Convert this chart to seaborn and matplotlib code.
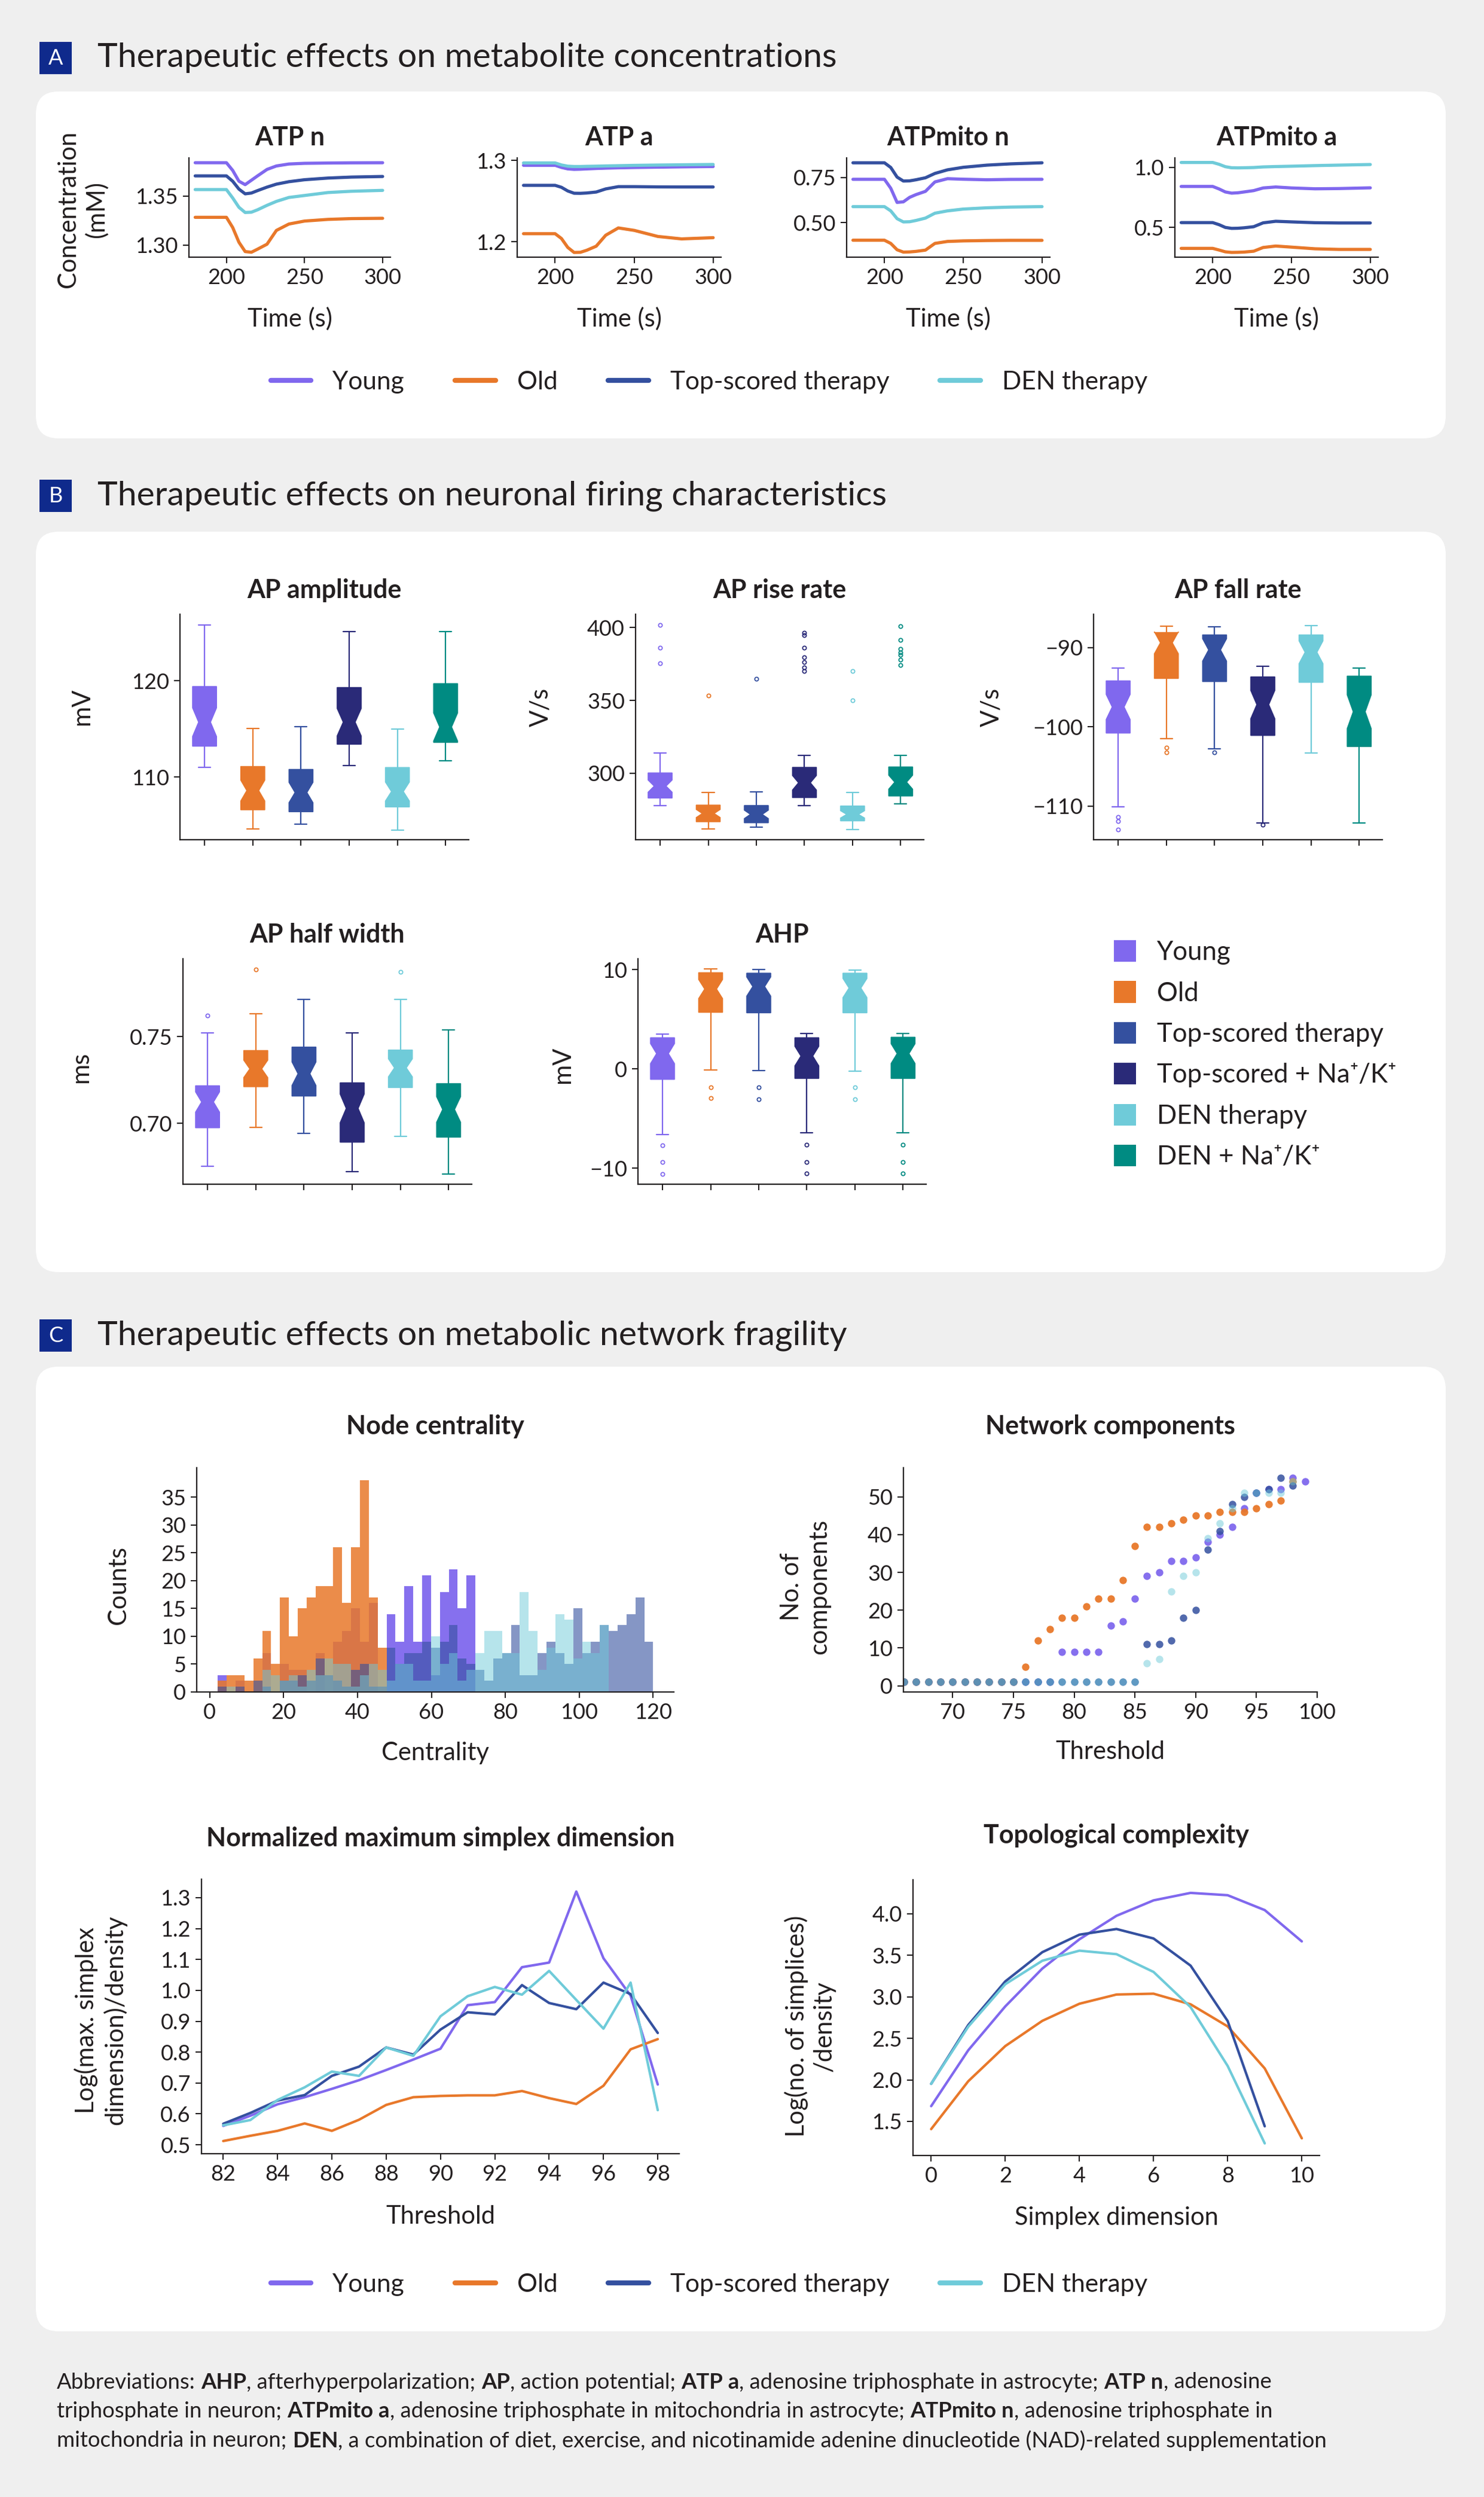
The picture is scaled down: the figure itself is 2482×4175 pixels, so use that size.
import numpy as np
import pandas as pd
import matplotlib
matplotlib.use('Agg')
import matplotlib.pyplot as plt
import seaborn as sns
from matplotlib.patches import FancyBboxPatch, Rectangle, Patch
from matplotlib.lines import Line2D

# ---------------- colours ----------------
C_YOUNG = '#8068ee'
C_OLD = '#e8782a'
C_TOP = '#34509f'
C_TOPNA = '#2a2a78'
C_DEN = '#6fcbd9'
C_DENNA = '#008b82'
INK = '#231f20'
BG = '#efefef'
HEAD_BLUE = '#0f2a8c'

# ---------------- data: panel A (metabolite traces) ----------------
time_s = [180, 200, 204, 208, 212, 216, 220, 226, 232, 240, 250, 265, 280, 300]

atp_n_young = [1.3838, 1.3838, 1.3760, 1.3650, 1.3615, 1.3660, 1.3705, 1.3770, 1.3805, 1.3825, 1.3832, 1.3835, 1.3837, 1.3838]
atp_n_old = [1.3283, 1.3283, 1.3180, 1.3030, 1.2935, 1.2928, 1.2960, 1.3010, 1.3150, 1.3215, 1.3245, 1.3262, 1.3270, 1.3273]
atp_n_top = [1.3704, 1.3704, 1.3650, 1.3570, 1.3522, 1.3530, 1.3555, 1.3590, 1.3620, 1.3645, 1.3665, 1.3682, 1.3692, 1.3698]
atp_n_den = [1.3565, 1.3565, 1.3480, 1.3385, 1.3332, 1.3335, 1.3360, 1.3405, 1.3445, 1.3485, 1.3505, 1.3535, 1.3548, 1.3557]

atp_a_young = [1.2941, 1.2941, 1.2915, 1.2897, 1.2891, 1.2893, 1.2897, 1.2902, 1.2906, 1.2910, 1.2914, 1.2918, 1.2922, 1.2926]
atp_a_old = [1.2099, 1.2099, 1.2040, 1.1930, 1.1868, 1.1870, 1.1895, 1.1945, 1.2080, 1.2170, 1.2140, 1.2065, 1.2035, 1.2050]
atp_a_top = [1.2694, 1.2694, 1.2670, 1.2625, 1.2597, 1.2596, 1.2600, 1.2612, 1.2650, 1.2678, 1.2678, 1.2675, 1.2674, 1.2674]
atp_a_den = [1.2970, 1.2970, 1.2945, 1.2930, 1.2926, 1.2926, 1.2928, 1.2930, 1.2933, 1.2936, 1.2940, 1.2944, 1.2947, 1.2951]

mito_n_young = [0.7395, 0.7395, 0.690, 0.612, 0.615, 0.640, 0.655, 0.673, 0.725, 0.743, 0.740, 0.737, 0.739, 0.7395]
mito_n_old = [0.4027, 0.4027, 0.385, 0.350, 0.337, 0.338, 0.341, 0.348, 0.385, 0.396, 0.399, 0.401, 0.402, 0.402]
mito_n_top = [0.831, 0.831, 0.805, 0.752, 0.730, 0.731, 0.737, 0.748, 0.772, 0.792, 0.806, 0.818, 0.825, 0.831]
mito_n_den = [0.5885, 0.5885, 0.565, 0.522, 0.504, 0.505, 0.512, 0.525, 0.552, 0.565, 0.575, 0.582, 0.586, 0.5885]

mito_a_young = [0.8405, 0.8405, 0.820, 0.795, 0.785, 0.788, 0.795, 0.806, 0.828, 0.836, 0.828, 0.821, 0.823, 0.829]
mito_a_old = [0.3256, 0.3256, 0.312, 0.297, 0.292, 0.293, 0.295, 0.302, 0.333, 0.345, 0.336, 0.322, 0.317, 0.317]
mito_a_top = [0.540, 0.540, 0.523, 0.500, 0.492, 0.493, 0.497, 0.506, 0.538, 0.551, 0.546, 0.539, 0.537, 0.537]
mito_a_den = [1.040, 1.040, 1.025, 1.005, 0.996, 0.995, 0.996, 0.998, 1.003, 1.006, 1.009, 1.014, 1.018, 1.023]

# ---------------- data: panel B (box summaries: low whisker, Q1, median, Q3, high whisker) ----------------
groups_b = ['Young', 'Old', 'Top-scored therapy', 'Top-scored + Na⁺/K⁺', 'DEN therapy', 'DEN + Na⁺/K⁺']
n_cells = 43  # approx. sample size behind the notches

amp_box = [(111.0, 113.2, 115.7, 119.4, 125.8), (104.6, 106.6, 108.6, 111.1, 115.05), (105.1, 106.4, 108.4, 110.8, 115.2),
           (111.2, 113.4, 115.7, 119.3, 125.1), (104.5, 106.9, 108.5, 111.0, 115.0), (111.7, 113.6, 115.2, 119.7, 125.1)]
amp_out = [[], [], [], [], [], []]

rise_box = [(277.6, 283.0, 291.2, 300.3, 313.9), (261.6, 266.7, 272.4, 278.2, 287.0), (262.9, 266.0, 271.8, 277.9, 287.4),
            (277.6, 283.3, 293.5, 304.1, 312.2), (261.2, 267.3, 271.8, 277.6, 287.0), (278.9, 284.4, 293.9, 304.4, 312.2)]
rise_out = [[402.0, 386.4, 375.5], [353.4], [365.0], [396.6, 394.9, 386.4, 379.6, 376.2, 372.8, 370.1], [370.0, 350.0],
            [401.0, 391.5, 385.4, 383.0, 381.3, 377.9, 374.1]]

fall_box = [(-110.1, -100.8, -97.5, -94.2, -92.6), (-101.5, -93.9, -89.4, -88.1, -87.3), (-102.75, -94.3, -90.3, -88.4, -87.4),
            (-112.1, -101.1, -97.2, -93.7, -92.4), (-103.3, -94.4, -90.6, -88.4, -87.2), (-112.1, -102.5, -98.1, -93.6, -92.6)]
fall_out = [[-111.4, -111.9, -113.0], [-102.6, -103.25], [-103.2], [-112.4], [], []]

half_box = [(0.6751, 0.6974, 0.7123, 0.7217, 0.7523), (0.6977, 0.7211, 0.7314, 0.7420, 0.7631), (0.6943, 0.7157, 0.7286, 0.7440, 0.7714),
            (0.6720, 0.6891, 0.7086, 0.7234, 0.7523), (0.6926, 0.7206, 0.7320, 0.7423, 0.7714), (0.6706, 0.6920, 0.7080, 0.7229, 0.7537)]
half_out = [[0.7623], [0.7886], [], [], [0.7874], []]

ahp_box = [(-6.6, -1.05, 1.55, 3.15, 3.5), (-0.1, 5.7, 8.05, 9.7, 10.05), (-0.15, 5.65, 8.3, 9.65, 10.0),
           (-6.45, -0.95, 1.3, 3.15, 3.55), (-0.2, 5.65, 8.15, 9.65, 9.95), (-6.45, -0.95, 1.55, 3.2, 3.55)]
ahp_out = [[-7.7, -9.35, -10.6], [-1.85, -2.95], [-1.85, -3.05], [-7.6, -9.35, -10.5], [-1.85, -3.05], [-7.6, -9.35, -10.5]]

# ---------------- data: panel C ----------------
# node centrality histogram counts (49 bins, 2.2 .. 120)
cent_young = [3, 0, 2, 0, 0, 7, 0, 5, 4, 4, 0, 7, 0, 9, 11, 15, 9, 16, 0, 14, 9, 19, 9, 21, 3, 18, 22, 15, 21,
              0, 0, 0, 0, 0, 0, 0, 0, 0, 0, 0, 0, 0, 0, 0, 0, 0, 0, 0, 0]
cent_old = [2, 3, 3, 2, 6, 11, 5, 17, 10, 15, 17, 19, 19, 26, 16, 26, 38, 17, 8, 0, 0, 0, 0, 0, 0, 0, 0, 0, 0,
            0, 0, 0, 0, 0, 0, 0, 0, 0, 0, 0, 0, 0, 0, 0, 0, 0, 0, 0, 0]
cent_top = [1, 0, 1, 0, 2, 1, 0, 2, 2, 3, 2, 6, 3, 2, 1, 4, 5, 1, 1, 8, 5, 7, 7, 9, 8, 9, 12, 6, 5,
            4, 2, 6, 7, 12, 3, 3, 7, 9, 7, 5, 15, 7, 9, 12, 11, 12, 14, 17, 9]
cent_den = [0, 1, 0, 0, 0, 4, 3, 2, 3, 1, 4, 3, 6, 5, 5, 1, 3, 5, 4, 2, 5, 5, 2, 2, 10, 5, 7, 2, 4,
            7, 11, 11, 7, 7, 18, 11, 4, 8, 14, 13, 6, 9, 7, 12, 0, 0, 0, 0, 0]

# network components
thr_young = [66, 67, 68, 69, 70, 71, 72, 73, 74, 75, 76, 77, 78, 79, 80, 81, 82, 83, 84, 85, 86, 87, 88, 89, 90, 91, 92, 93, 94, 95, 96, 97, 98, 99]
comp_young = [1, 1, 1, 1, 1, 1, 1, 1, 1, 1, 1, 1, 1, 9, 9, 9, 9, 16, 17, 23, 29, 30, 33, 33, 34, 38, 40, 42, 47, 51, 52, 52, 55, 54]
thr_rest = [66, 67, 68, 69, 70, 71, 72, 73, 74, 75, 76, 77, 78, 79, 80, 81, 82, 83, 84, 85, 86, 87, 88, 89, 90, 91, 92, 93, 94, 95, 96, 97, 98]
comp_old = [1, 1, 1, 1, 1, 1, 1, 1, 1, 1, 5, 12, 15, 18, 18, 21, 23, 23, 28, 37, 42, 42, 43, 44, 45, 45, 46, 46, 46, 47, 48, 49, 54]
comp_top = [1, 1, 1, 1, 1, 1, 1, 1, 1, 1, 1, 1, 1, 1, 1, 1, 1, 1, 1, 1, 11, 11, 12, 18, 20, 36, 41, 48, 50, 51, 52, 55, 53]
comp_den = [1, 1, 1, 1, 1, 1, 1, 1, 1, 1, 1, 1, 1, 1, 1, 1, 1, 1, 1, 1, 6, 7, 25, 29, 30, 39, 43, 47, 51, 51, 51, 51, 54]

# normalized maximum simplex dimension
thr_norm = [82, 83, 84, 85, 86, 87, 88, 89, 90, 91, 92, 93, 94, 95, 96, 97, 98]
norm_young = [0.561, 0.594, 0.631, 0.654, 0.681, 0.709, 0.742, 0.776, 0.811, 0.952, 0.962, 1.075, 1.090, 1.320, 1.104, 0.983, 0.695]
norm_old = [0.512, 0.529, 0.545, 0.569, 0.545, 0.581, 0.629, 0.654, 0.658, 0.660, 0.660, 0.674, 0.651, 0.632, 0.691, 0.809, 0.842]
norm_top = [0.568, 0.603, 0.643, 0.661, 0.723, 0.753, 0.815, 0.792, 0.873, 0.929, 0.922, 1.017, 0.959, 0.939, 1.025, 0.988, 0.862]
norm_den = [0.563, 0.580, 0.645, 0.686, 0.737, 0.723, 0.815, 0.788, 0.916, 0.981, 1.011, 0.986, 1.063, 0.969, 0.876, 1.025, 0.612]

# topological complexity
dim_long = [0, 1, 2, 3, 4, 5, 6, 7, 8, 9, 10]
dim_short = [0, 1, 2, 3, 4, 5, 6, 7, 8, 9]
topo_young = [1.683, 2.356, 2.885, 3.341, 3.693, 3.976, 4.162, 4.252, 4.224, 4.045, 3.668]
topo_old = [1.407, 1.983, 2.407, 2.711, 2.917, 3.028, 3.038, 2.910, 2.644, 2.138, 1.296]
topo_top = [1.952, 2.660, 3.186, 3.538, 3.749, 3.817, 3.703, 3.376, 2.709, 1.441]
topo_den = [1.952, 2.640, 3.152, 3.435, 3.556, 3.514, 3.300, 2.876, 2.168, 1.235]

# ---------------- figure setup ----------------
W, H = 2482, 4175
sns.set_theme(style='ticks')
plt.rcParams['font.family'] = ['Lato', 'DejaVu Sans']
plt.rcParams['text.color'] = INK
plt.rcParams['axes.labelcolor'] = INK

fig = plt.figure(figsize=(W / 100, H / 100), dpi=100)
fig.patch.set_facecolor(BG)

bg = fig.add_axes([0, 0, 1, 1])
bg.set_xlim(0, W)
bg.set_ylim(H, 0)
bg.axis('off')
bg.set_zorder(-5)


def panel_box(y0, y1):
    bg.add_patch(FancyBboxPatch((60, y0), 2358, y1 - y0, boxstyle='round,pad=0,rounding_size=38',
                                fc='white', ec='none'))


def header(letter, text, yc):
    bg.add_patch(Rectangle((66, yc - 27), 54, 54, fc=HEAD_BLUE, ec='none'))
    bg.text(93, yc + 1, letter, color='white', fontsize=26, ha='center', va='center')
    bg.text(163, yc, text, fontsize=41, va='center', color=INK)


def px_axes(box):
    x0, y0, x1, y1 = box
    ax = fig.add_axes([x0 / W, 1 - y1 / H, (x1 - x0) / W, (y1 - y0) / H])
    ax.set_facecolor('white')
    sns.despine(ax=ax)
    for s in ['left', 'bottom']:
        ax.spines[s].set_linewidth(1.6)
        ax.spines[s].set_color(INK)
    ax.tick_params(length=7, width=1.5, labelsize=26, pad=6, colors=INK)
    return ax


def put_title(ax, box, text, yc):
    x0, y0, x1, y1 = box
    ax.set_title(text, fontsize=31, fontweight='bold', y=(y1 - yc) / (y1 - y0), va='center', pad=0, color=INK)


def put_xlabel(ax, box, text, yc):
    x0, y0, x1, y1 = box
    ax.set_xlabel(text, fontsize=30)
    ax.xaxis.set_label_coords(0.5, (y1 - yc) / (y1 - y0))
    ax.xaxis.label.set_va('center')


def put_ylabel(ax, box, text, xc, yc):
    x0, y0, x1, y1 = box
    ax.set_ylabel(text, fontsize=30, linespacing=1.25)
    ax.yaxis.set_label_coords((xc - x0) / (x1 - x0), (y1 - yc) / (y1 - y0))
    ax.yaxis.label.set_va('center')


panel_box(153, 733)
panel_box(889, 2127)
panel_box(2285, 3898)
header('A', 'Therapeutic effects on metabolite concentrations', 97)
header('B', 'Therapeutic effects on neuronal firing characteristics', 829)
header('C', 'Therapeutic effects on metabolic network fragility', 2233)

# ---------------- panel A ----------------
a_panels = [
    ('ATP n', (316, 264, 653, 430), [atp_n_young, atp_n_old, atp_n_top, atp_n_den], (1.2878, 1.3887), [1.30, 1.35], '{:.2f}'),
    ('ATP a', (865, 264, 1206, 430), [atp_a_young, atp_a_old, atp_a_top, atp_a_den], (1.181, 1.3032), [1.2, 1.3], '{:.1f}'),
    ('ATPmito n', (1416, 264, 1756, 430), [mito_n_young, mito_n_old, mito_n_top, mito_n_den], (0.309, 0.858), [0.50, 0.75], '{:.2f}'),
    ('ATPmito a', (1965, 264, 2305, 430), [mito_a_young, mito_a_old, mito_a_top, mito_a_den], (0.2525, 1.078), [0.5, 1.0], '{:.1f}'),
]
line_cols = [C_YOUNG, C_OLD, C_TOP, C_DEN]
for i, (name, box, series, ylim, yt, fmt) in enumerate(a_panels):
    ax = px_axes(box)
    for vals, col in zip(series, line_cols):
        sns.lineplot(x=time_s, y=vals, color=col, linewidth=3.8, ax=ax, legend=False)
    ax.set_xlim(176, 305)
    ax.set_ylim(*ylim)
    ax.set_xticks([200, 250, 300])
    ax.set_yticks(yt)
    ax.set_yticklabels([fmt.format(v) for v in yt])
    put_title(ax, box, name, 230)
    put_xlabel(ax, box, 'Time (s)', 533)
    ax.set_ylabel('')
    if i == 0:
        put_ylabel(ax, box, 'Concentration\n(mM)', 138, 350)

line_labels = ['Young', 'Old', 'Top-scored therapy', 'DEN therapy']
line_handles = [Line2D([], [], color=c, lw=6) for c in line_cols]
for yc in (639, 3820):
    fig.legend(line_handles, line_labels, loc='center', bbox_to_anchor=(1186 / W, 1 - yc / H), ncol=4,
               frameon=False, fontsize=30.5, handlelength=1.6, handletextpad=0.85, columnspacing=2.0)

# ---------------- panel B ----------------
box_cols = [C_YOUNG, C_OLD, C_TOP, C_TOPNA, C_DEN, C_DENNA]


def draw_boxes(ax, summary, outliers):
    stats = []
    for (lo, q1, med, q3, hi), fl in zip(summary, outliers):
        half_notch = 1.57 * (q3 - q1) / np.sqrt(n_cells)
        stats.append(dict(whislo=lo, q1=q1, med=med, q3=q3, whishi=hi, fliers=fl,
                          cilo=med - half_notch, cihi=med + half_notch))
    bp = ax.bxp(stats, positions=range(6), widths=0.5, shownotches=True, patch_artist=True, showfliers=True,
                manage_ticks=False)
    for j, col in enumerate(box_cols):
        bp['boxes'][j].set_facecolor(col)
        bp['boxes'][j].set_edgecolor(col)
        bp['boxes'][j].set_linewidth(1)
        for art in bp['whiskers'][2 * j:2 * j + 2] + bp['caps'][2 * j:2 * j + 2]:
            art.set_color(col)
            art.set_linewidth(1.6)
        bp['medians'][j].set_visible(False)
        bp['fliers'][j].set(marker='o', markerfacecolor='none', markeredgecolor=col, markersize=4.5,
                            markeredgewidth=1.3)
    ax.set_xlim(-0.51, 5.48)
    ax.set_xticks(range(6))
    ax.set_xticklabels([])


b_panels = [
    ('AP amplitude', (301, 1027, 784, 1404), amp_box, amp_out, (103.5, 126.9), [110, 120], '{:.0f}', 'mV', 137, 1182, 987),
    ('AP rise rate', (1063, 1027, 1545, 1404), rise_box, rise_out, (254.4, 409.2), [300, 350, 400], '{:.0f}', 'V/s', 904, 1182, 987),
    ('AP fall rate', (1829, 1027, 2312, 1404), fall_box, fall_out, (-114.25, -85.8), [-110, -100, -90], '{:.0f}', 'V/s', 1658, 1182, 987),
    ('AP half width', (306, 1603, 789, 1980), half_box, half_out, (0.6649, 0.7949), [0.70, 0.75], '{:.2f}', 'ms', 135, 1785, 1563),
    ('AHP', (1067, 1603, 1549, 1980), ahp_box, ahp_out, (-11.6, 11.1), [-10, 0, 10], '{:.0f}', 'mV', 941, 1781, 1563),
]
for name, box, summ, outl, ylim, yt, fmt, ylab, lx, ly, ty in b_panels:
    ax = px_axes(box)
    draw_boxes(ax, summ, outl)
    ax.set_ylim(*ylim)
    ax.set_yticks(yt)
    ax.set_yticklabels([fmt.format(v).replace('-', '\u2212') for v in yt])
    put_title(ax, box, name, ty)
    put_ylabel(ax, box, ylab, lx, ly)

patch_handles = [Patch(facecolor=c, edgecolor='none') for c in box_cols]
fig.legend(patch_handles, groups_b, loc='upper left', bbox_to_anchor=(1863 / W, 1 - 1572 / H), frameon=False,
           fontsize=31.5, handlelength=0.85, handleheight=0.9, handletextpad=0.8, labelspacing=0.62, borderpad=0,
           borderaxespad=0)

# ---------------- panel C ----------------
series_style = [(C_YOUNG, 0.95), (C_OLD, 0.85), (C_TOP, 0.6), (C_DEN, 0.5)]

# node centrality
box = (329, 2454, 1127, 2829)
ax = px_axes(box)
n_bins = len(cent_young)
bin_w = (120.0 - 2.2) / n_bins
cent_mid = [2.2 + bin_w * (k + 0.5) for k in range(n_bins)]
for counts, (col, a) in zip([cent_young, cent_old, cent_top, cent_den], series_style):
    hist_df = pd.DataFrame({'centrality': cent_mid, 'count': counts})
    sns.histplot(data=hist_df, x='centrality', weights='count', bins=n_bins, binrange=(2.2, 120.0),
                 color=col, alpha=a, linewidth=0, ax=ax)
ax.set_xlim(-3.5, 125.6)
ax.set_ylim(0, 40.3)
ax.set_xticks(range(0, 121, 20))
ax.set_yticks(range(0, 36, 5))
put_title(ax, box, 'Node centrality', 2385)
put_xlabel(ax, box, 'Centrality', 2931)
put_ylabel(ax, box, 'Counts', 198, 2650)

# network components
box = (1511, 2454, 2203, 2829)
ax = px_axes(box)
scatter_style = [(C_YOUNG, 0.95), (C_OLD, 0.95), (C_TOP, 0.85), (C_DEN, 0.5)]
for xs, ys, (col, a) in zip([thr_young, thr_rest, thr_rest, thr_rest], [comp_young, comp_old, comp_top, comp_den],
                            scatter_style):
    sns.scatterplot(x=xs, y=ys, color=col, alpha=a, s=80, linewidth=0, ax=ax, legend=False)
ax.set_xlim(65.95, 100)
ax.set_ylim(-1.64, 57.7)
ax.set_xticks(range(70, 101, 5))
ax.set_yticks(range(0, 51, 10))
put_title(ax, box, 'Network components', 2385)
put_xlabel(ax, box, 'Threshold', 2929)
put_ylabel(ax, box, 'No. of\ncomponents', 1347, 2653)

# normalized maximum simplex dimension
box = (337, 3142, 1136, 3601)
ax = px_axes(box)
for vals, col in zip([norm_young, norm_old, norm_top, norm_den], line_cols):
    sns.lineplot(x=thr_norm, y=vals, color=col, linewidth=3, ax=ax, legend=False)
ax.set_xlim(81.2, 98.79)
ax.set_ylim(0.471, 1.36)
ax.set_xticks(range(82, 99, 2))
ax.set_yticks([0.5, 0.6, 0.7, 0.8, 0.9, 1.0, 1.1, 1.2, 1.3])
ax.set_yticklabels(['0.5', '0.6', '0.7', '0.8', '0.9', '1.0', '1.1', '1.2', '1.3'])
put_title(ax, box, 'Normalized maximum simplex dimension', 3074)
put_xlabel(ax, box, 'Threshold', 3706)
put_ylabel(ax, box, 'Log(max. simplex\ndimension)/density', 168, 3378)

# topological complexity
box = (1527, 3143, 2207, 3604)
ax = px_axes(box)
for xs, vals, col in zip([dim_long, dim_long, dim_short, dim_short], [topo_young, topo_old, topo_top, topo_den],
                         line_cols):
    sns.lineplot(x=xs, y=vals, color=col, linewidth=3, ax=ax, legend=False)
ax.set_xlim(-0.49, 10.48)
ax.set_ylim(1.089, 4.41)
ax.set_xticks(range(0, 11, 2))
ax.set_yticks([1.5, 2.0, 2.5, 3.0, 3.5, 4.0])
ax.set_yticklabels(['1.5', '2.0', '2.5', '3.0', '3.5', '4.0'])
put_title(ax, box, 'Topological complexity', 3069)
put_xlabel(ax, box, 'Simplex dimension', 3708)
put_ylabel(ax, box, 'Log(no. of simplices)\n/density', 1355, 3388)

# ---------------- abbreviations footnote ----------------
abbrev_lines = [
    [('Abbreviations:', False), ('AHP', True), (', afterhyperpolarization;', False), ('AP', True),
     (', action potential;', False), ('ATP a', True), (', adenosine triphosphate in astrocyte;', False),
     ('ATP n', True), (', adenosine', False)],
    [('triphosphate in neuron;', False), ('ATPmito a', True),
     (', adenosine triphosphate in mitochondria in astrocyte;', False), ('ATPmito n', True),
     (', adenosine triphosphate in', False)],
    [('mitochondria in neuron;', False), ('DEN', True),
     (', a combination of diet, exercise, and nicotinamide adenine dinucleotide (NAD)-related supplementation', False)],
]
renderer = fig.canvas.get_renderer()
fs_note = 26.3
probe1 = bg.text(0, 0, 'a a', fontsize=fs_note)
probe2 = bg.text(0, 0, 'aa', fontsize=fs_note)
space_w = probe1.get_window_extent(renderer).width - probe2.get_window_extent(renderer).width
probe1.remove()
probe2.remove()
for line, yc in zip(abbrev_lines, [3983, 4032, 4081]):
    x = 95
    for k, (seg, bold) in enumerate(line):
        if k > 0 and not seg.startswith(','):
            x += space_w
        t = bg.text(x, yc, seg, fontsize=fs_note, fontweight='bold' if bold else 'normal', va='center', color=INK)
        x += t.get_window_extent(renderer).width

fig.savefig('out.png', dpi=100, facecolor=fig.get_facecolor())
